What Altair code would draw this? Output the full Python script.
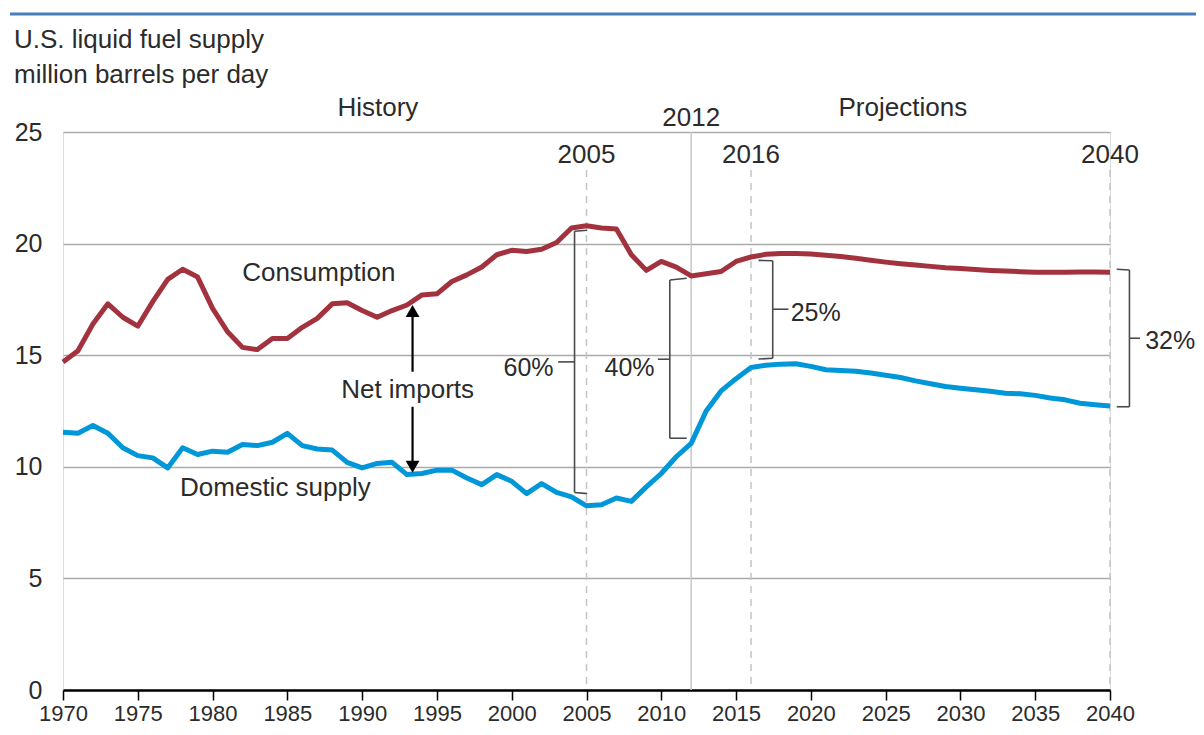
import altair as alt
import pandas as pd

# ---------------- data ----------------
years = list(range(1970, 2041))

consumption = [
    14.7, 15.2, 16.4, 17.3, 16.7, 16.3, 17.4, 18.4, 18.85, 18.5,      # 1970-1979
    17.1, 16.05, 15.35, 15.25, 15.75, 15.75, 16.25, 16.65, 17.3, 17.35,  # 1980-1989
    17.0, 16.7, 17.0, 17.25, 17.7, 17.75, 18.3, 18.6, 18.95, 19.5,    # 1990-1999
    19.7, 19.65, 19.75, 20.05, 20.7, 20.8, 20.7, 20.65, 19.5, 18.8,   # 2000-2009
    19.2, 18.95, 18.55, 18.65, 18.75, 19.2, 19.4, 19.52, 19.56, 19.56,  # 2010-2019
    19.53, 19.48, 19.42, 19.34, 19.25, 19.17, 19.1, 19.04, 18.98, 18.92,  # 2020-2029
    18.88, 18.84, 18.8, 18.77, 18.74, 18.72, 18.72, 18.72, 18.73, 18.73,  # 2030-2039
    18.72,                                                              # 2040
]

domestic = [
    11.55, 11.5, 11.85, 11.5, 10.85, 10.5, 10.4, 9.95, 10.85, 10.55,   # 1970-1979
    10.7, 10.65, 11.0, 10.95, 11.1, 11.5, 10.95, 10.8, 10.75, 10.2,    # 1980-1989
    9.95, 10.15, 10.2, 9.65, 9.7, 9.85, 9.85, 9.5, 9.2, 9.65,          # 1990-1999
    9.35, 8.8, 9.25, 8.85, 8.65, 8.25, 8.3, 8.6, 8.45, 9.1,            # 2000-2009
    9.7, 10.45, 11.05, 12.5, 13.4, 13.95, 14.45, 14.55, 14.6, 14.62,   # 2010-2019
    14.5, 14.35, 14.32, 14.28, 14.2, 14.1, 14.0, 13.85, 13.72, 13.6,   # 2020-2029
    13.52, 13.45, 13.38, 13.3, 13.27, 13.2, 13.08, 13.0, 12.85, 12.78,  # 2030-2039
    12.72,                                                             # 2040
]

series_names = ["Consumption", "Domestic supply"]
x_tick_values = list(range(1970, 2041, 5))
y_tick_values = [0, 5, 10, 15, 20, 25]

# reference years
solid_year = [2012]
dashed_years = [2005, 2016, 2040]
dashed_top = 23.3

# brackets (segments in data coordinates)
br_x1 = [2004.2, 2004.2, 2004.2, 2004.2,
         2010.57, 2010.57, 2010.57, 2010.57,
         2017.45, 2017.45, 2017.45, 2017.45,
         2041.3, 2041.3, 2041.3, 2041.3]
br_y1 = [20.55, 20.55, 8.85, 14.7,
         18.37, 18.37, 11.28, 14.82,
         19.23, 19.23, 14.86, 17.06,
         18.82, 18.82, 12.69, 15.76]
br_x2 = [2004.2, 2005.05, 2005.05, 2003.1,
         2010.57, 2011.7, 2011.7, 2009.77,
         2017.45, 2016.5, 2016.5, 2018.5,
         2041.3, 2040.45, 2040.45, 2042.0]
br_y2 = [8.85, 20.6, 8.8, 14.7,
         11.28, 18.45, 11.28, 14.82,
         14.86, 19.25, 14.83, 17.06,
         12.69, 18.85, 12.69, 15.76]

# net imports arrow
arrow_year = 1993.37
arrow_seg_y1 = [16.8, 12.69]
arrow_seg_y2 = [14.26, 10.2]
arrow_heads = [16.98, 10.0]
arrow_shapes = ["triangle-up", "triangle-down"]

# text annotations
c_text = ["History", "Projections", "2012", "2005", "2016", "2040",
          "Consumption", "Domestic supply", "Net imports"]
c_x = [1991.05, 2026.15, 2012.0, 2005.0, 2016.0, 2040.0, 1987.1, 1984.2, 1993.04]
c_y = [26.08, 26.08, 25.63, 23.97, 23.97, 23.97, 18.68, 9.05, 13.44]

r_text = ["60%", "40%"]
r_x = [2002.8, 2009.55]
r_y = [14.43, 14.43]

l_text = ["25%", "32%"]
l_x = [2018.65, 2042.35]
l_y = [16.89, 15.65]

title_lines = ["U.S. liquid fuel supply", "million barrels per day"]

# ---------------- styling ----------------
FONT = "Liberation Sans"
TXT = "#2b2b2b"
RED = "#A3323F"
BLUE = "#0097D8"
FS = 26
FS_PCT = 25

# ---------------- tables ----------------
lines_df = pd.DataFrame({
    "year": years * 2,
    "value": consumption + domestic,
    "series": [series_names[0]] * len(years) + [series_names[1]] * len(years),
})
vref_df = pd.DataFrame({"year": solid_year, "y1": [25], "y2": [0]})
vdash_df = pd.DataFrame({"year": dashed_years, "y1": [dashed_top] * 3, "y2": [0] * 3})
br_df = pd.DataFrame({"x": br_x1, "y": br_y1, "x2": br_x2, "y2": br_y2})
arrow_df = pd.DataFrame({"x": [arrow_year] * 2, "y": arrow_seg_y1, "y2": arrow_seg_y2})
head_df = pd.DataFrame({"x": [arrow_year] * 2, "y": arrow_heads, "shape": arrow_shapes})
c_df = pd.DataFrame({"x": c_x, "y": c_y, "t": c_text})
r_df = pd.DataFrame({"x": r_x, "y": r_y, "t": r_text})
l_df = pd.DataFrame({"x": l_x, "y": l_y, "t": l_text})

xscale = alt.Scale(domain=[1970, 2040], nice=False, zero=False)
yscale = alt.Scale(domain=[0, 25], nice=False, zero=True)

x_axis = alt.Axis(values=x_tick_values, format="d", title=None, grid=False,
                  domainColor="#000000", domainWidth=2.5, tickColor="#000000",
                  tickWidth=1.5, tickSize=10, labelPadding=3, labelFontSize=22,
                  labelFont=FONT, labelColor=TXT, labelFlush=False)
y_axis = alt.Axis(values=y_tick_values, title=None, grid=True, gridColor="#ABABAB",
                  gridWidth=1.5, domain=False, ticks=False, labelPadding=21,
                  labelFontSize=25, labelFont=FONT, labelColor=TXT)

lines = alt.Chart(lines_df).mark_line(strokeWidth=5, strokeJoin="round").encode(
    x=alt.X("year:Q", scale=xscale, axis=x_axis),
    y=alt.Y("value:Q", scale=yscale, axis=y_axis),
    color=alt.Color("series:N", scale=alt.Scale(domain=series_names, range=[RED, BLUE]),
                    legend=None),
)

vsolid = alt.Chart(vref_df).mark_rule(color="#C9C9C9", strokeWidth=1.5).encode(
    x=alt.X("year:Q", scale=xscale), y=alt.Y("y1:Q", scale=yscale), y2="y2:Q")
vdash = alt.Chart(vdash_df).mark_rule(color="#C4C4C4", strokeWidth=1.5,
                                       strokeDash=[7, 6]).encode(
    x=alt.X("year:Q", scale=xscale), y=alt.Y("y1:Q", scale=yscale), y2="y2:Q")

brackets = alt.Chart(br_df).mark_rule(color="#4a4a4a", strokeWidth=1.6).encode(
    x=alt.X("x:Q", scale=xscale), y=alt.Y("y:Q", scale=yscale), x2="x2:Q", y2="y2:Q")

arrow = alt.Chart(arrow_df).mark_rule(color="#000000", strokeWidth=2.2).encode(
    x=alt.X("x:Q", scale=xscale), y=alt.Y("y:Q", scale=yscale), y2="y2:Q")
heads = alt.Chart(head_df).mark_point(filled=True, color="#000000", size=190,
                                      opacity=1).encode(
    x=alt.X("x:Q", scale=xscale), y=alt.Y("y:Q", scale=yscale),
    shape=alt.Shape("shape:N", scale=None))

def texts(df, align, size):
    return alt.Chart(df).mark_text(align=align, baseline="middle", font=FONT,
                                   fontSize=size, color=TXT).encode(
        x=alt.X("x:Q", scale=xscale), y=alt.Y("y:Q", scale=yscale), text="t:N")

c_layer = texts(c_df, "center", FS)
r_layer = texts(r_df, "right", FS_PCT)
l_layer = texts(l_df, "left", FS_PCT)

top_rule = alt.Chart(pd.DataFrame({"a": [0]})).mark_rule(
    color="#4A7EBB", strokeWidth=3).encode(
    x=alt.value(-53), x2=alt.value(1145), y=alt.value(-118))

title_df = pd.DataFrame({"t": title_lines, "py": [-92, -57]})
title = alt.Chart(title_df).mark_text(align="left", baseline="middle", font=FONT,
                                      fontSize=FS, color=TXT).encode(
    x=alt.value(-49), y=alt.Y("py:Q", scale=None), text="t:N")

chart = alt.layer(
    vsolid, vdash, lines, brackets, arrow, heads, c_layer, r_layer, l_layer,
    top_rule, title,
).properties(
    width=1047, height=558,
    autosize=alt.AutoSizeParams(type="none"),
    padding={"left": 55, "top": 124, "right": 86, "bottom": 37},
).configure_view(stroke=None).configure(background="#ffffff")

chart.save("out.html", embed_options={"renderer": "svg", "actions": False})
